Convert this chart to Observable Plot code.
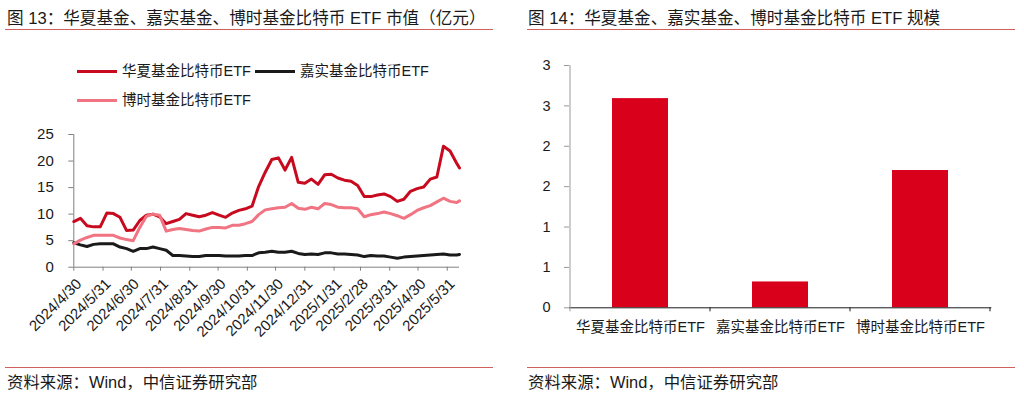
<!DOCTYPE html>
<html><head><meta charset="utf-8">
<script src="https://cdn.jsdelivr.net/npm/d3@7"></script>
<script src="https://cdn.jsdelivr.net/npm/@observablehq/plot@0.6"></script>
<style>
body{margin:0;background:#fff;width:1024px;height:397px;overflow:hidden;position:relative;font-family:"Liberation Sans","Noto Sans CJK SC",sans-serif;color:#1a1a1a}
.abs{position:absolute;white-space:nowrap}
.title{font-size:16.6px;line-height:20px;top:9px}
.src{font-size:16.4px;line-height:20px;top:372px}
.hr{position:absolute;height:0;border-top:1px solid #d0605e}
.sw{position:absolute;height:3px;width:40px}
.lg{font-size:14.5px;line-height:18px}
#left,#right{position:absolute}
</style></head>
<body>
<div class="abs title" style="left:7px">图 13：华夏基金、嘉实基金、博时基金比特币 ETF 市值（亿元）</div>
<div class="hr" style="left:5px;width:488px;top:29px"></div>
<div class="abs title" style="left:528px">图 14：华夏基金、嘉实基金、博时基金比特币 ETF 规模</div>
<div class="hr" style="left:527px;width:488px;top:29px"></div>

<div id="legend"></div>
<div id="left" style="left:0;top:110px"></div>
<div id="right" style="left:512px;top:40px"></div>

<div class="hr" style="left:5px;width:488px;top:367px"></div>
<div class="abs src" style="left:7px">资料来源：Wind，中信证券研究部</div>
<div class="hr" style="left:527px;width:488px;top:367px"></div>
<div class="abs src" style="left:528px">资料来源：Wind，中信证券研究部</div>

<script>
// ---------- data: left chart (market value, 亿元) ----------
const seriesNames = ["华夏基金比特币ETF", "嘉实基金比特币ETF", "博时基金比特币ETF"];
const seriesColors = ["#c80a1e", "#1a1a1a", "#f07482"];
const dates = [
 "2024-04-30","2024-05-07","2024-05-14","2024-05-21","2024-05-28","2024-06-04","2024-06-11","2024-06-18","2024-06-25","2024-07-02",
 "2024-07-09","2024-07-16","2024-07-23","2024-07-30","2024-08-06","2024-08-13","2024-08-20","2024-08-27","2024-09-03","2024-09-10",
 "2024-09-17","2024-09-24","2024-10-01","2024-10-08","2024-10-15","2024-10-22","2024-10-29","2024-11-05","2024-11-12","2024-11-19",
 "2024-11-26","2024-12-03","2024-12-10","2024-12-17","2024-12-24","2024-12-31","2025-01-07","2025-01-14","2025-01-21","2025-01-28",
 "2025-02-04","2025-02-11","2025-02-18","2025-02-25","2025-03-04","2025-03-11","2025-03-18","2025-03-25","2025-04-01","2025-04-08",
 "2025-04-15","2025-04-22","2025-04-29","2025-05-06","2025-05-13","2025-05-20","2025-05-27","2025-06-03","2025-06-10","2025-06-13"];
const huaxia = [
 8.6,9.2,7.8,7.6,7.6,10.2,10.1,9.4,6.9,7.0,
 8.8,9.8,10.0,9.5,8.2,8.6,9.0,10.1,9.8,9.5,
 9.8,10.3,9.8,9.4,10.2,10.7,11.0,11.5,15.2,17.9,
 20.3,20.6,18.3,20.7,16.0,15.8,16.6,15.6,17.4,17.5,
 16.8,16.4,16.2,15.4,13.3,13.3,13.6,13.8,13.3,12.4,
 12.8,14.3,14.8,15.1,16.6,17.0,22.8,21.9,19.6,18.7];
const jiashi = [
 4.6,4.2,3.9,4.3,4.4,4.4,4.4,3.8,3.5,3.0,
 3.5,3.5,3.8,3.5,3.2,2.2,2.2,2.1,2.0,2.0,
 2.2,2.2,2.2,2.1,2.1,2.1,2.2,2.2,2.7,2.8,
 3.0,2.8,2.8,3.0,2.6,2.4,2.5,2.4,2.7,2.7,
 2.5,2.5,2.4,2.3,2.0,2.2,2.1,2.1,1.9,1.7,
 1.9,2.0,2.1,2.2,2.3,2.4,2.5,2.3,2.3,2.4];
const boshi = [
 4.4,5.1,5.6,6.0,6.0,6.0,6.0,5.5,5.2,5.0,
 7.5,9.6,10.0,9.8,6.8,7.1,7.3,7.1,6.9,6.8,
 7.2,7.5,7.5,7.4,7.9,7.9,8.2,8.6,9.9,10.8,
 11.0,11.2,11.3,12.0,11.1,10.9,11.3,11.0,12.0,11.8,
 11.3,11.2,11.2,11.0,9.5,9.9,10.1,10.4,10.1,9.7,
 9.2,9.9,10.7,11.2,11.6,12.3,13.0,12.4,12.2,12.5];
const xTickDates = ["2024-04-30","2024-05-31","2024-06-30","2024-07-31","2024-08-31","2024-09-30","2024-10-31",
 "2024-11-30","2024-12-31","2025-01-31","2025-02-28","2025-03-31","2025-04-30","2025-05-31"];
const xTickLabels = ["2024/4/30","2024/5/31","2024/6/30","2024/7/31","2024/8/31","2024/9/30","2024/10/31",
 "2024/11/30","2024/12/31","2025/1/31","2025/2/28","2025/3/31","2025/4/30","2025/5/31"];
const yTicksLeft = [0,5,10,15,20,25];

// ---------- data: right chart (scale) ----------
const barCats = ["华夏基金比特币ETF", "嘉实基金比特币ETF", "博时基金比特币ETF"];
const barValues = [2.59, 0.32, 1.70];
const barTicks = [0,0.5,1,1.5,2,2.5,3];
const barTickLabels = ["0","1","1","2","2","3","3"];

const FONT = '"Liberation Sans","Noto Sans CJK SC",sans-serif';

// legend
const legendPos = [[77,71],[255,71],[77,100]];
const lg = document.getElementById("legend");
seriesNames.forEach((n,i)=>{
  const [x,y] = legendPos[i];
  const s = document.createElement("div");
  s.className="sw"; s.style.left=x+"px"; s.style.top=(y-1.5)+"px"; s.style.background=seriesColors[i];
  lg.appendChild(s);
  const t = document.createElement("div");
  t.className="abs lg"; t.style.left=(x+45)+"px"; t.style.top=(y-9)+"px"; t.textContent=n;
  lg.appendChild(t);
});

const parse = s => new Date(s + "T00:00:00Z");
const allSeries = [huaxia, jiashi, boshi];
const rows = allSeries.map(arr => dates.map((d,i)=>({date: parse(d), v: arr[i]})));
const tickRows = xTickDates.map((d,i)=>({date: parse(d), label: xTickLabels[i]}));

const left = Plot.plot({
  width: 512, height: 250,
  marginLeft: 73.3, marginRight: 53, marginTop: 24, marginBottom: 93.3,
  style: {fontFamily: FONT, fontSize: "15px", color: "#1a1a1a", background: "transparent", overflow: "visible"},
  x: {type: "utc", domain: [parse(dates[0]), parse(dates[dates.length-1])]},
  y: {domain: [0,25]},
  marks: [
    Plot.ruleX([parse(dates[0])], {stroke: "#808080"}),
    Plot.ruleY([0], {stroke: "#808080"}),
    Plot.axisY({ticks: yTicksLeft, tickSize: 5, tickPadding: 15, stroke: "#808080", label: null, fill: "#1a1a1a"}),
    Plot.axisX({ticks: tickRows.map(d => d.date), tickSize: 4, stroke: "#808080", label: null, tickFormat: () => ""}),
    Plot.text(tickRows, {x: "date", y: () => yTicksLeft[0], text: "label", rotate: -45, textAnchor: "end",
      lineAnchor: "top", dx: 1, dy: 10, fontSize: 15, fill: "#1a1a1a"}),
    Plot.lineY(rows[0], {x: "date", y: "v", stroke: seriesColors[0], strokeWidth: 3}),
    Plot.lineY(rows[1], {x: "date", y: "v", stroke: seriesColors[1], strokeWidth: 3}),
    Plot.lineY(rows[2], {x: "date", y: "v", stroke: seriesColors[2], strokeWidth: 3})
  ]
});
document.getElementById("left").appendChild(left);

const bars = barCats.map((c,i)=>({cat: c, v: barValues[i]}));
const right = Plot.plot({
  width: 512, height: 310,
  marginLeft: 57, marginRight: 32.7, marginTop: 25, marginBottom: 42.7,
  style: {fontFamily: FONT, fontSize: "14.5px", color: "#1a1a1a", background: "transparent"},
  x: {domain: barCats, paddingInner: 0.6, paddingOuter: 0.3},
  y: {domain: [0,3]},
  marks: [
    Plot.barY(bars, {x: "cat", y: "v", fill: "#d9001b"}),
    Plot.axisY({ticks: barTicks, tickSize: 5, tickPadding: 14, stroke: "#999", label: null, fill: "#1a1a1a",
      tickFormat: (d) => barTickLabels[barTicks.indexOf(d)]}),
    Plot.axisX({tickSize: 0, tickPadding: 14, label: null, fill: "#1a1a1a"}),
    Plot.ruleY([0], {stroke: "#1a1a1a"})
  ]
});
document.getElementById("right").appendChild(right);

// y-axis line and category boundary ticks from the library's scales
{
  const sx = right.scale("x"), sy = right.scale("y");
  const svg = d3.select(right);
  const gap = (sx.step - sx.bandwidth) / 2;
  const x0 = sx.apply(barCats[0]) - gap;
  svg.append("line").attr("x1", x0).attr("x2", x0).attr("y1", sy.apply(3)).attr("y2", sy.apply(0) + 4).attr("stroke", "#999");
  const bounds = barCats.map(c => sx.apply(c) + sx.bandwidth + gap);
  svg.append("g").selectAll("line").data(bounds).join("line")
    .attr("x1", d => d).attr("x2", d => d).attr("y1", sy.apply(0)).attr("y2", sy.apply(0) + 4).attr("stroke", "#1a1a1a");
}
</script>
</body></html>
